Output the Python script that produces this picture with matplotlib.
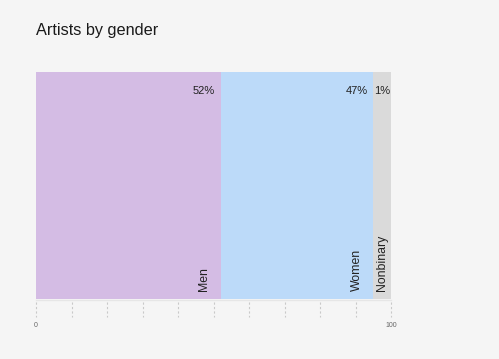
import matplotlib.pyplot as plt
import matplotlib.transforms as mtransforms

plt.rcParams['font.family'] = ['Liberation Sans', 'DejaVu Sans']

categories = ["Men", "Women", "Nonbinary"]
shares = [52, 47, 1]
# drawn widths as measured on the reference (the 1% slice is given a minimum width)
bar_widths = [52, 43, 5]
colors = ["#d4bce4", "#bcdaf9", "#dadada"]
tick_values = list(range(0, 101, 10))
tick_labels = {0: "0", 100: "100"}

fig = plt.figure(figsize=(4.99, 3.59), dpi=100)
fig.patch.set_facecolor("#f5f5f5")
ax = fig.add_axes([36 / 499, 1 - 299 / 359, 355 / 499, 227 / 359])
ax.set_facecolor("#f5f5f5")

left = 0
for cat, share, w, c in zip(categories, shares, bar_widths, colors):
    ax.barh(0, w, left=left, height=1, color=c, align="edge")
    right = left + w
    if w < 10:
        # narrow slice: centre both labels
        ax.text(left + w / 2, 0.916, f"{share}%", ha="center", va="center",
                fontsize=8, color="#222222")
        xl = left + w / 2
    else:
        ax.text(right - 1.6, 0.916, f"{share}%", ha="right", va="center",
                fontsize=8, color="#222222")
        xl = right - 4.7
    ax.text(xl, 0.035, cat, ha="center", va="bottom", rotation=90,
            fontsize=8.8, color="#222222")
    left = right

ax.set_xlim(0, 100)
ax.set_ylim(0, 1)
ax.axis("off")

# thin baseline under the bar
ax.plot([0, 100], [-0.004, -0.004], color="#e6e6e6", lw=1, clip_on=False)

trans = mtransforms.blended_transform_factory(ax.transData, ax.transAxes)
for t in tick_values:
    ax.plot([t, t], [-0.015, -0.078], transform=trans, color="#c9c9c9",
            lw=0.8, ls=(0, (2, 2)), clip_on=False)
    if t in tick_labels:
        ax.text(t, -0.115, tick_labels[t], transform=trans, ha="center",
                va="center", fontsize=5, color="#666666")

fig.text(36 / 499, 1 - 30 / 359, "Artists by gender", ha="left", va="center",
         fontsize=11.7, color="#1a1a1a")

fig.savefig("out.png", dpi=100, facecolor=fig.get_facecolor())
